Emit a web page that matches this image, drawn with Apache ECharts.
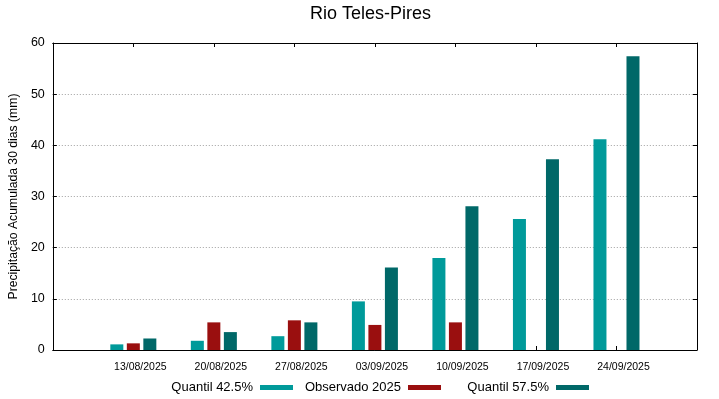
<!DOCTYPE html>
<html>
<head>
<meta charset="utf-8">
<script src="https://cdn.jsdelivr.net/npm/echarts@6/dist/echarts.min.js"></script>
<style>
html,body{margin:0;padding:0;background:#fff;}
#chart{width:719px;height:399px;}
</style>
</head>
<body>
<div id="chart"></div>
<script>
const categories = ['13/08/2025','20/08/2025','27/08/2025','03/09/2025','10/09/2025','17/09/2025','24/09/2025'];
const quantil425 = [1.1, 1.8, 2.7, 9.5, 18.0, 25.6, 41.2];
const observado2025 = [1.3, 5.4, 5.8, 4.9, 5.4, null, null];
const quantil575 = [2.25, 3.5, 5.4, 16.1, 28.1, 37.3, 57.4];
const yTicks = [0, 10, 20, 30, 40, 50, 60];

const FONT = 'Liberation Sans';
const xData = [''].concat(categories, ['']);
const pad = arr => [null].concat(arr, [null]);

const chart = echarts.init(document.getElementById('chart'), null, {renderer: 'canvas'});

const legendBase = {
  orient: 'horizontal', top: 381, padding: 0, align: 'right',
  itemWidth: 33, itemHeight: 5, icon: 'rect',
  textStyle: {fontFamily: FONT, fontSize: 13, color: '#000', padding: [0, 2, 0, 0]}
};

const barBase = {type: 'bar', barWidth: 13, barGap: '27%', xAxisIndex: 0, yAxisIndex: 0};

chart.setOption({
  animation: false,
  backgroundColor: '#fff',
  title: {
    text: 'Rio Teles-Pires', left: 310, top: 5, padding: 0,
    textStyle: {fontFamily: FONT, fontSize: 18, fontWeight: 'normal', color: '#000'}
  },
  legend: [
    Object.assign({}, legendBase, {right: 426, data: ['Quantil 42.5%']}),
    Object.assign({}, legendBase, {right: 278, data: ['Observado 2025']}),
    Object.assign({}, legendBase, {right: 130, data: ['Quantil 57.5%']})
  ],
  grid: {left: 52, right: 22, top: 43, bottom: 49, containLabel: false},
  xAxis: [
    {
      type: 'category', data: xData, boundaryGap: false, position: 'bottom',
      axisLine: {show: true, onZero: false, lineStyle: {color: '#000', width: 1}},
      axisTick: {show: true, inside: true, length: 4, lineStyle: {color: '#000'}},
      axisLabel: {show: true, interval: 0, margin: 12, fontFamily: FONT, fontSize: 10.5, color: '#000', padding: [0, 0, 0, 14]},
      splitLine: {show: false}
    },
    {
      type: 'category', data: xData, boundaryGap: false, position: 'top',
      axisLine: {show: true, onZero: false, lineStyle: {color: '#000', width: 1}},
      axisTick: {show: true, inside: true, length: 4, lineStyle: {color: '#000'}},
      axisLabel: {show: false},
      splitLine: {show: false}
    }
  ],
  yAxis: [
    {
      type: 'value', min: yTicks[0], max: yTicks[yTicks.length - 1], interval: 10, position: 'left',
      name: 'Precipitação Acumulada 30 dias (mm)', nameLocation: 'middle', nameGap: 27,
      nameTextStyle: {fontFamily: FONT, fontSize: 12.2, color: '#000'},
      axisLine: {show: true, onZero: false, lineStyle: {color: '#000', width: 1}},
      axisTick: {show: true, inside: true, length: 4, lineStyle: {color: '#000'}},
      axisLabel: {margin: 8, fontFamily: FONT, fontSize: 12.5, color: '#000'},
      splitLine: {show: true, lineStyle: {color: '#a0a0a0', type: [1, 2], width: 1}}
    },
    {
      type: 'value', min: yTicks[0], max: yTicks[yTicks.length - 1], interval: 10, position: 'right',
      axisLine: {show: true, onZero: false, lineStyle: {color: '#000', width: 1}},
      axisTick: {show: true, inside: true, length: 4, lineStyle: {color: '#000'}},
      axisLabel: {show: false},
      splitLine: {show: false}
    }
  ],
  series: [
    Object.assign({}, barBase, {name: 'Quantil 42.5%', data: pad(quantil425), itemStyle: {color: '#009a9a'}}),
    Object.assign({}, barBase, {name: 'Observado 2025', data: pad(observado2025), itemStyle: {color: '#9a0f0f'}}),
    Object.assign({}, barBase, {name: 'Quantil 57.5%', data: pad(quantil575), itemStyle: {color: '#006868'}})
  ]
});
</script>
</body>
</html>
